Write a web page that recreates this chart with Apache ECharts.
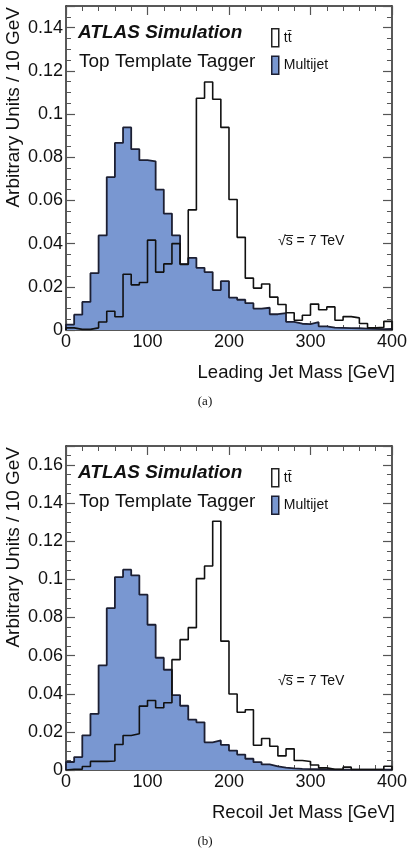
<!DOCTYPE html>
<html>
<head>
<meta charset="utf-8">
<script src="https://cdn.jsdelivr.net/npm/echarts/dist/echarts.min.js"></script>
<style>
  html, body { margin: 0; padding: 0; background: #fff; }
  #main { width: 410px; height: 854px; }
</style>
</head>
<body>
<div id="main"></div>
<script>
// low edges of the 10 GeV mass bins
const massBins = [0, 10, 20, 30, 40, 50, 60, 70, 80, 90, 100, 110, 120, 130, 140, 150, 160, 170, 180, 190,
  200, 210, 220, 230, 240, 250, 260, 270, 280, 290, 300, 310, 320, 330, 340, 350, 360, 370, 380, 390];
const binWidth = 10;

// (a) leading jet mass
const leadMultijet = [0.0025, 0.0071, 0.0130, 0.0263, 0.0438, 0.0708, 0.0866, 0.0938, 0.0837, 0.0786,
  0.0781, 0.0650, 0.0539, 0.0438, 0.0305, 0.0334, 0.0288, 0.0268, 0.0185, 0.0226,
  0.0150, 0.0140, 0.0124, 0.0099, 0.0103, 0.0073, 0.0078, 0.0038, 0.0029, 0.0027,
  0.0036, 0.0017, 0.0011, 0.0010, 0.0009, 0.0008, 0.0006, 0.0005, 0.0004, 0.0005];
const leadTtbar = [0.0010, 0.0003, 0.0003, 0.0010, 0.0037, 0.0087, 0.0061, 0.0258, 0.0209, 0.0220,
  0.0416, 0.0268, 0.0306, 0.0400, 0.0304, 0.0556, 0.1073, 0.1148, 0.1068, 0.0938,
  0.0604, 0.0429, 0.0240, 0.0194, 0.0213, 0.0152, 0.0118, 0.0080, 0.0045, 0.0068,
  0.0120, 0.0094, 0.0107, 0.0045, 0.0062, 0.0056, 0.0030, 0.0010, 0.0012, 0.0040];

// (b) recoil jet mass
const recoilMultijet = [0.0042, 0.0068, 0.0182, 0.0295, 0.0549, 0.0849, 0.1012, 0.1051, 0.1021, 0.0920,
  0.0762, 0.0589, 0.0526, 0.0393, 0.0337, 0.0264, 0.0250, 0.0145, 0.0155, 0.0132,
  0.0102, 0.0081, 0.0059, 0.0041, 0.0029, 0.0019, 0.0013, 0.0009, 0.0006, 0.0005,
  0.0004, 0.0003, 0.0002, 0.0002, 0.0002, 0.0002, 0.0002, 0.0002, 0.0002, 0.0002];
const recoilTtbar = [0.0004, 0.0004, 0.0018, 0.0045, 0.0045, 0.0047, 0.0134, 0.0181, 0.0190, 0.0335,
  0.0365, 0.0327, 0.0353, 0.0579, 0.0684, 0.0747, 0.1004, 0.1070, 0.1305, 0.0676,
  0.0399, 0.0303, 0.0316, 0.0130, 0.0165, 0.0125, 0.0074, 0.0111, 0.0050, 0.0045,
  0.0026, 0.0011, 0.0004, 0.0004, 0.0015, 0.0003, 0.0003, 0.0003, 0.0003, 0.0020];

const xTicks = [0, 400, 100];            // min, max, step
const yRangeA = [0, 0.15, 0.02];
const yRangeB = [0, 0.17, 0.02];

const TTBAR = "tt\u0304";
const MULTIJET = "Multijet";
const FONT = "'Liberation Sans', Arial, sans-serif";
const BLUE = "#7997d1";
const EDGE = "#1c1f33";

// histogram outline as step points (bin edges)
function histPoints(values) {
  const pts = [[massBins[0], 0]];
  values.forEach((v, i) => pts.push([massBins[i], v]));
  const last = massBins[massBins.length - 1] + binWidth;
  pts.push([last, values[values.length - 1]]);
  pts.push([last, 0]);
  return pts;
}

function xAxis(grid, pos, labels) {
  return {
    type: "value", gridIndex: grid, position: pos,
    min: xTicks[0], max: xTicks[1], interval: xTicks[2],
    axisLine: { show: true, onZero: false, lineStyle: { color: "#222", width: 1.5 } },
    axisTick: { show: true, inside: true, length: 9, lineStyle: { color: "#555", width: 1.2 } },
    minorTick: { show: true, splitNumber: 5, length: 5, lineStyle: { color: "#555", width: 1 } },
    axisLabel: { show: labels, margin: 3, fontSize: 18, color: "#111", fontFamily: FONT },
    splitLine: { show: false },
  };
}

function yAxis(grid, pos, labels, range) {
  return {
    type: "value", gridIndex: grid, position: pos,
    min: range[0], max: range[1], interval: range[2],
    axisLine: { show: true, onZero: false, lineStyle: { color: "#222", width: 1.5 } },
    axisTick: { show: true, inside: true, length: 9, lineStyle: { color: "#555", width: 1.2 } },
    minorTick: { show: true, splitNumber: 4, length: 5, lineStyle: { color: "#555", width: 1 } },
    axisLabel: { show: labels, margin: 3, fontSize: 18, color: "#111", fontFamily: FONT, showMaxLabel: false },
    splitLine: { show: false },
  };
}

function multijetSeries(idx, values) {
  return {
    name: MULTIJET, type: "line", step: "end", xAxisIndex: idx, yAxisIndex: idx,
    data: histPoints(values), symbol: "none", z: 2,
    lineStyle: { color: EDGE, width: 1.8 },
    itemStyle: { color: BLUE },
    areaStyle: { color: BLUE, opacity: 1 },
  };
}

function ttbarSeries(idx, values) {
  return {
    name: TTBAR, type: "line", step: "end", xAxisIndex: idx, yAxisIndex: idx,
    data: histPoints(values), symbol: "none", z: 3,
    lineStyle: { color: "#111", width: 1.6 },
    itemStyle: { color: "#fff" },
  };
}

function legend(top) {
  return {
    left: 271, top: top, orient: "vertical", padding: 0,
    itemWidth: 7, itemHeight: 18, itemGap: 8, icon: "rect", selectedMode: false,
    textStyle: { fontSize: 14, fontFamily: FONT, color: "#111" },
    data: [
      { name: TTBAR, itemStyle: { color: "#fff", borderColor: "#222", borderWidth: 1.5 } },
      { name: MULTIJET, itemStyle: { color: BLUE, borderColor: EDGE, borderWidth: 1.5 } },
    ],
  };
}

function panelTexts(dy, xTitle, tag) {
  return [
    { type: "text", x: 14, y: 7 + dy, rotation: Math.PI / 2,
      style: { text: "Arbitrary Units / 10 GeV", font: "19px " + FONT, fill: "#111", align: "right", verticalAlign: "middle" } },
    { type: "text", x: 78, y: 33 + dy,
      style: { text: "ATLAS Simulation", font: "italic bold 19px " + FONT, fill: "#111", align: "left", verticalAlign: "middle" } },
    { type: "text", x: 79, y: 62 + dy,
      style: { text: "Top Template Tagger", font: "19px " + FONT, fill: "#111", align: "left", verticalAlign: "middle" } },
    { type: "text", x: 278, y: 241 + dy,
      style: { text: "\u221As\u0305 = 7 TeV", font: "14px " + FONT, fill: "#111", align: "left", verticalAlign: "middle" } },
    { type: "text", x: 395, y: 373 + dy,
      style: { text: xTitle, font: "18.5px " + FONT, fill: "#111", align: "right", verticalAlign: "middle" } },
    { type: "text", x: 205, y: 402 + dy,
      style: { text: tag, font: "13px 'Liberation Serif', 'DejaVu Serif', serif", fill: "#111", align: "center", verticalAlign: "middle" } },
  ];
}

const chart = echarts.init(document.getElementById("main"), null, { renderer: "canvas" });

const option = {
  animation: false,
  backgroundColor: "#fff",
  grid: [
    { left: 66, top: 6, width: 329, height: 324 },
    { left: 66, top: 446, width: 329, height: 324 },
  ],
  xAxis: [xAxis(0, "bottom", true), xAxis(0, "top", false), xAxis(1, "bottom", true), xAxis(1, "top", false)],
  yAxis: [yAxis(0, "left", true, yRangeA), yAxis(0, "right", false, yRangeA),
          yAxis(1, "left", true, yRangeB), yAxis(1, "right", false, yRangeB)],
  legend: [legend(28), legend(468)],
  series: [
    multijetSeries(0, leadMultijet), ttbarSeries(0, leadTtbar),
    multijetSeries(2, recoilMultijet), ttbarSeries(2, recoilTtbar),
  ],
  graphic: [
    ...panelTexts(0, "Leading Jet Mass [GeV]", "(a)"),
    ...panelTexts(440, "Recoil Jet Mass [GeV]", "(b)"),
  ],
};

chart.setOption(option);
</script>
</body>
</html>
